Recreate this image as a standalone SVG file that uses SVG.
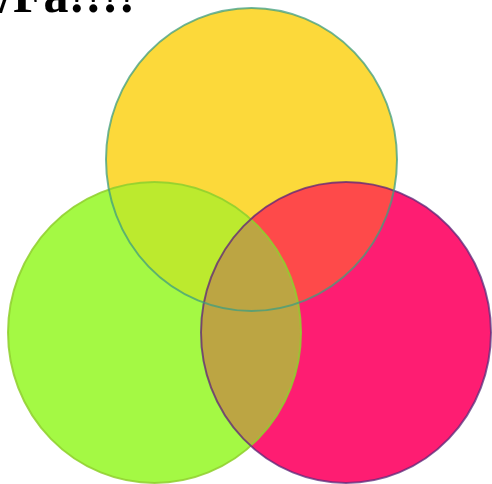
<svg xmlns="http://www.w3.org/2000/svg" width="492" height="484" viewBox="0 0 492 484">
  <style>
    .title { font-family: "Liberation Serif", "Times New Roman", serif; font-weight: bold; font-size: 50px; fill: #000; }
    .stroke { fill: none; stroke-width: 2; }
  </style>
  <defs>
    <clipPath id="clipY"><ellipse cx="251.5" cy="159.5" rx="145.5" ry="151.5"/></clipPath>
    <clipPath id="clipG"><ellipse cx="154.5" cy="332.5" rx="146.5" ry="150.5"/></clipPath>
  </defs>
  <rect width="492" height="484" fill="#ffffff"/>
  <text class="title" x="-1" y="12">/Fa!!!!</text>
  <g id="yellow">
    <ellipse cx="251.5" cy="159.5" rx="145.5" ry="151.5" fill="#fcd93a"/>
  </g>
  <g id="green">
    <ellipse cx="154.5" cy="332.5" rx="146.5" ry="150.5" fill="#a4f944"/>
  </g>
  <g id="pink">
    <ellipse cx="346" cy="332.5" rx="145" ry="150.5" fill="#fe1d72"/>
  </g>
  <g id="overlaps">
    <g clip-path="url(#clipY)">
      <ellipse cx="154.5" cy="332.5" rx="146.5" ry="150.5" fill="#bcea2e"/>
      <ellipse cx="346" cy="332.5" rx="145" ry="150.5" fill="#fe4a4a"/>
    </g>
    <g clip-path="url(#clipG)">
      <ellipse cx="346" cy="332.5" rx="145" ry="150.5" fill="#bca543"/>
    </g>
  </g>
  <g id="outlines">
    <ellipse class="stroke" cx="154.5" cy="332.5" rx="146.5" ry="150.5" stroke="#8fcf2e" stroke-opacity="0.85"/>
    <ellipse class="stroke" cx="346" cy="332.5" rx="145" ry="150.5" stroke="#5b2a7a" stroke-opacity="0.75"/>
    <ellipse class="stroke" cx="251.5" cy="159.5" rx="145.5" ry="151.5" stroke="#3f9e80" stroke-opacity="0.75"/>
  </g>
</svg>
